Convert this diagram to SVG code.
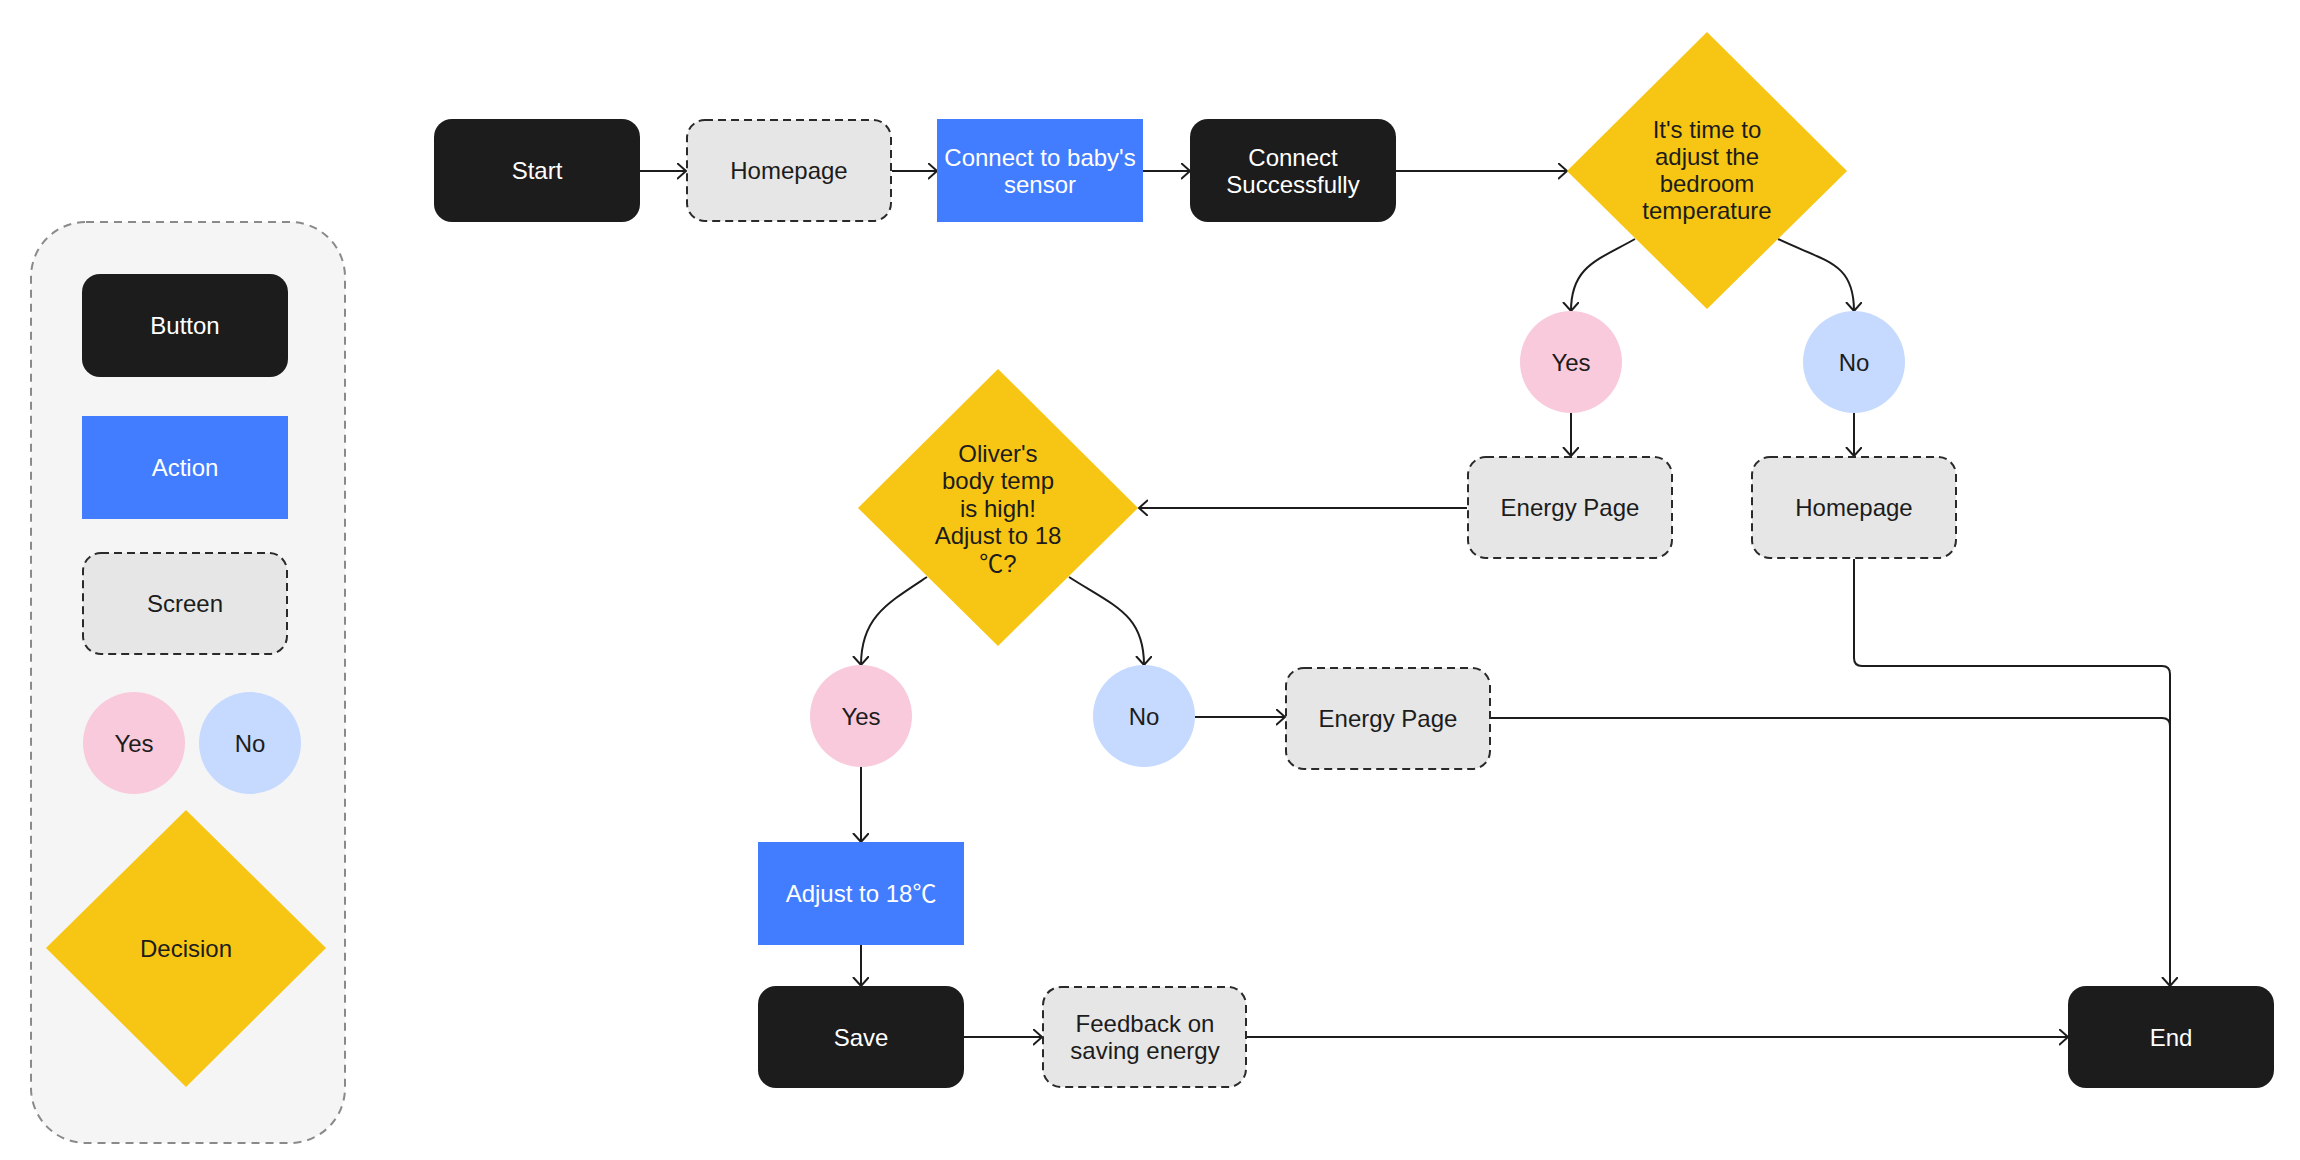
<svg xmlns="http://www.w3.org/2000/svg" width="2300" height="1160" viewBox="0 0 2300 1160">
<defs>
<style>
text{font-family:"Liberation Sans",Arial,Helvetica,"Noto Sans CJK SC",sans-serif;font-size:24px;text-anchor:middle;}
.btn{fill:#1c1c1c;}
.act{fill:#437dff;}
.scr{fill:#e6e6e6;stroke:#2a2a2a;stroke-width:2;stroke-dasharray:8 5;}
.yes{fill:#f8cadb;}
.no{fill:#c6d9ff;}
.dec{fill:#f7c614;}
.lt{fill:#ffffff;}
.dk{fill:#1c1c1c;}
.legend{fill:#f5f5f5;stroke:#8a8a8a;stroke-width:2;stroke-dasharray:8 6;}
.c{fill:none;stroke:#1c1c1c;stroke-width:2;}
</style>
<marker id="arr" markerUnits="userSpaceOnUse" markerWidth="12" markerHeight="20" refX="9" refY="8" orient="auto">
<path d="M0,0 L9,8 L0,16" fill="none" stroke="#1c1c1c" stroke-width="2"/>
</marker>
</defs>
<rect width="2300" height="1160" fill="#ffffff"/>

<g id="legend">
<rect class="legend" x="31" y="222" width="314" height="921" rx="55" ry="55"/>
<g id="legend-button"><rect class="btn" x="82" y="274" width="206" height="103" rx="18"/><text class="lt" x="185" y="334">Button</text></g>
<g id="legend-action"><rect class="act" x="82" y="416" width="206" height="103"/><text class="lt" x="185" y="476">Action</text></g>
<g id="legend-screen"><rect class="scr" x="83" y="553" width="204" height="101" rx="18"/><text class="dk" x="185" y="612">Screen</text></g>
<g id="legend-yes"><circle class="yes" cx="134" cy="743" r="51"/><text class="dk" x="134" y="752">Yes</text></g>
<g id="legend-no"><circle class="no" cx="250" cy="743" r="51"/><text class="dk" x="250" y="752">No</text></g>
<g id="legend-decision"><polygon class="dec" points="186,810 326,948 186,1087 46,948"/><text class="dk" x="186" y="957">Decision</text></g>
</g>

<g id="connectors">
<path class="c" d="M640,171 H686" marker-end="url(#arr)"/>
<path class="c" d="M892,171 H937" marker-end="url(#arr)"/>
<path class="c" d="M1143,171 H1190" marker-end="url(#arr)"/>
<path class="c" d="M1396,171 H1567" marker-end="url(#arr)"/>
<path class="c" d="M1635,239 C1598,260 1571,266 1571,311" marker-end="url(#arr)"/>
<path class="c" d="M1778,239 C1826,262 1854,262 1854,311" marker-end="url(#arr)"/>
<path class="c" d="M1571,413 V456" marker-end="url(#arr)"/>
<path class="c" d="M1854,413 V456" marker-end="url(#arr)"/>
<path class="c" d="M1467,508 H1139" marker-end="url(#arr)"/>
<path class="c" d="M927,577 C886,604 861,618 861,665" marker-end="url(#arr)"/>
<path class="c" d="M1069,577 C1114,606 1144,614 1144,665" marker-end="url(#arr)"/>
<path class="c" d="M861,767 V842" marker-end="url(#arr)"/>
<path class="c" d="M861,945 V986" marker-end="url(#arr)"/>
<path class="c" d="M1195,717 H1285" marker-end="url(#arr)"/>
<path class="c" d="M964,1037 H1042" marker-end="url(#arr)"/>
<path class="c" d="M1246,1037 H2068" marker-end="url(#arr)"/>
<path class="c" d="M1854,559 V658 Q1854,666 1862,666 H2162 Q2170,666 2170,674 V986" marker-end="url(#arr)"/>
<path class="c" d="M1489,718 H2162 Q2170,718 2170,726 V980"/>
</g>

<g id="start"><rect class="btn" x="434" y="119" width="206" height="103" rx="18"/><text class="lt" x="537" y="179">Start</text></g>
<g id="homepage1"><rect class="scr" x="687" y="120" width="204" height="101" rx="18"/><text class="dk" x="789" y="179">Homepage</text></g>
<g id="connect-sensor"><rect class="act" x="937" y="119" width="206" height="103"/><text class="lt" x="1040" y="166">Connect to baby's</text><text class="lt" x="1040" y="193">sensor</text></g>
<g id="connect-success"><rect class="btn" x="1190" y="119" width="206" height="103" rx="18"/><text class="lt" x="1293" y="166">Connect</text><text class="lt" x="1293" y="193">Successfully</text></g>
<g id="decision1"><polygon class="dec" points="1707,32 1847,171 1707,309 1567,171"/>
<text class="dk" x="1707" y="138">It's time to</text><text class="dk" x="1707" y="165">adjust the</text><text class="dk" x="1707" y="192">bedroom</text><text class="dk" x="1707" y="219">temperature</text></g>
<g id="yes1"><circle class="yes" cx="1571" cy="362" r="51"/><text class="dk" x="1571" y="371">Yes</text></g>
<g id="no1"><circle class="no" cx="1854" cy="362" r="51"/><text class="dk" x="1854" y="371">No</text></g>
<g id="energy1"><rect class="scr" x="1468" y="457" width="204" height="101" rx="18"/><text class="dk" x="1570" y="516">Energy Page</text></g>
<g id="homepage2"><rect class="scr" x="1752" y="457" width="204" height="101" rx="18"/><text class="dk" x="1854" y="516">Homepage</text></g>
<g id="decision2"><polygon class="dec" points="998,369 1138,508 998,646 858,508"/>
<text class="dk" x="998" y="462">Oliver's</text><text class="dk" x="998" y="489">body temp</text><text class="dk" x="998" y="517">is high!</text><text class="dk" x="998" y="544">Adjust to 18</text><text class="dk" x="998" y="572">℃?</text></g>
<g id="yes2"><circle class="yes" cx="861" cy="716" r="51"/><text class="dk" x="861" y="725">Yes</text></g>
<g id="no2"><circle class="no" cx="1144" cy="716" r="51"/><text class="dk" x="1144" y="725">No</text></g>
<g id="energy2"><rect class="scr" x="1286" y="668" width="204" height="101" rx="18"/><text class="dk" x="1388" y="727">Energy Page</text></g>
<g id="adjust"><rect class="act" x="758" y="842" width="206" height="103"/><text class="lt" x="861" y="902">Adjust to 18℃</text></g>
<g id="save"><rect class="btn" x="758" y="986" width="206" height="102" rx="18"/><text class="lt" x="861" y="1046">Save</text></g>
<g id="feedback"><rect class="scr" x="1043" y="987" width="203" height="100" rx="18"/><text class="dk" x="1145" y="1032">Feedback on</text><text class="dk" x="1145" y="1059">saving energy</text></g>
<g id="end"><rect class="btn" x="2068" y="986" width="206" height="102" rx="18"/><text class="lt" x="2171" y="1046">End</text></g>
</svg>
